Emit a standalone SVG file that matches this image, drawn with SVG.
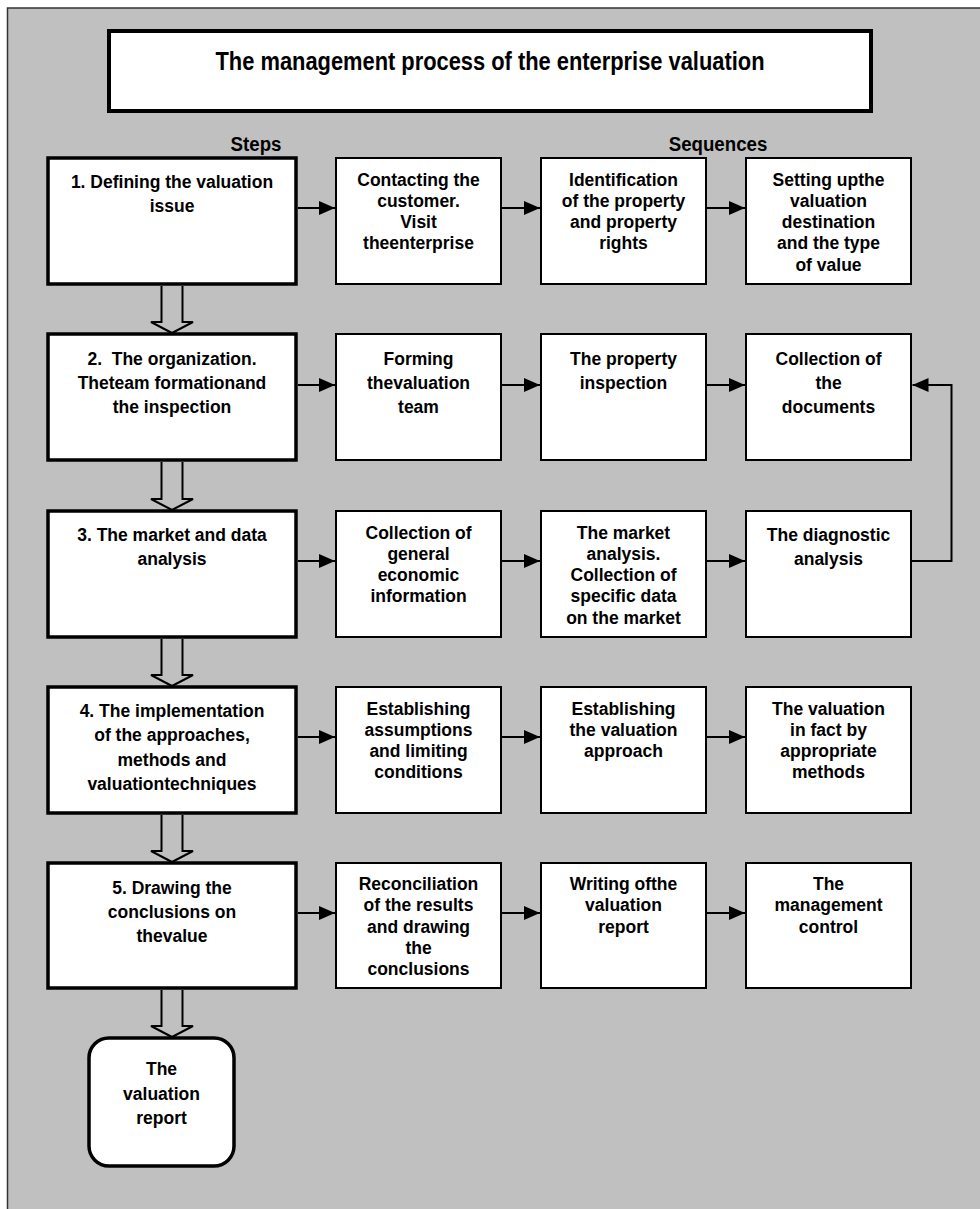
<svg xmlns="http://www.w3.org/2000/svg" width="980" height="1209" viewBox="0 0 980 1209">
<defs>
<style>
.bg{fill:#c0c0c0;stroke:#333;stroke-width:1.5}
.title{fill:#fff;stroke:#000;stroke-width:4}
.step{fill:#fff;stroke:#000;stroke-width:3.5}
.seq{fill:#fff;stroke:#000;stroke-width:2}
.conn{fill:none;stroke:#000;stroke-width:2}
.blk{fill:none;stroke:#000;stroke-width:2}
text{font-family:"Liberation Sans",Arial,sans-serif;font-weight:bold;fill:#000;text-anchor:middle}
.t{font-size:25px}
.h{font-size:21px}
.s{font-size:17.5px}
</style>
<marker id="ah" markerUnits="userSpaceOnUse" markerWidth="16" markerHeight="14" refX="16" refY="7" orient="auto">
<path d="M0,0 L16,7 L0,14 z" fill="#000"/>
</marker>
</defs>
<rect class="bg" x="7.5" y="8" width="1000" height="1250"/>

<g id="title">
<rect class="title" x="109" y="31" width="762" height="80"/>
<text class="t" transform="translate(490,70) scale(0.875,1)">The management process of the enterprise valuation</text>
</g>
<g id="header-steps"><text class="h" transform="translate(256,151) scale(0.89,1)">Steps</text></g>
<g id="header-sequences"><text class="h" transform="translate(718,151) scale(0.89,1)">Sequences</text></g>

<g id="step1">
<rect class="step" x="48" y="158" width="248" height="126"/>
<text class="s" x="172" y="188">1. Defining the valuation</text>
<text class="s" x="172" y="212">issue</text>
</g>
<g id="seq1a">
<rect class="seq" x="336" y="158" width="165" height="126"/>
<text class="s" x="418.5" y="185.5">Contacting the</text>
<text class="s" x="418.5" y="206.8">customer.</text>
<text class="s" x="418.5" y="228.1">Visit</text>
<text class="s" x="418.5" y="249.4">theenterprise</text>
</g>
<g id="seq1b">
<rect class="seq" x="541" y="158" width="165" height="126"/>
<text class="s" x="623.5" y="185.5">Identification</text>
<text class="s" x="623.5" y="206.8">of the property</text>
<text class="s" x="623.5" y="228.1">and property</text>
<text class="s" x="623.5" y="249.4">rights</text>
</g>
<g id="seq1c">
<rect class="seq" x="746" y="158" width="165" height="126"/>
<text class="s" x="828.5" y="185.5">Setting upthe</text>
<text class="s" x="828.5" y="206.8">valuation</text>
<text class="s" x="828.5" y="228.1">destination</text>
<text class="s" x="828.5" y="249.4">and the type</text>
<text class="s" x="828.5" y="270.7">of value</text>
</g>

<g id="step2">
<rect class="step" x="48" y="334" width="248" height="126"/>
<text class="s" x="172" y="365" xml:space="preserve">2.  The organization.</text>
<text class="s" x="172" y="389">Theteam formationand</text>
<text class="s" x="172" y="413">the inspection</text>
</g>
<g id="seq2a">
<rect class="seq" x="336" y="334" width="165" height="126"/>
<text class="s" x="418.5" y="365">Forming</text>
<text class="s" x="418.5" y="389">thevaluation</text>
<text class="s" x="418.5" y="413">team</text>
</g>
<g id="seq2b">
<rect class="seq" x="541" y="334" width="165" height="126"/>
<text class="s" x="623.5" y="365">The property</text>
<text class="s" x="623.5" y="389">inspection</text>
</g>
<g id="seq2c">
<rect class="seq" x="746" y="334" width="165" height="126"/>
<text class="s" x="828.5" y="365">Collection of</text>
<text class="s" x="828.5" y="389">the</text>
<text class="s" x="828.5" y="413">documents</text>
</g>

<g id="step3">
<rect class="step" x="48" y="511" width="248" height="126"/>
<text class="s" x="172" y="541">3. The market and data</text>
<text class="s" x="172" y="565">analysis</text>
</g>
<g id="seq3a">
<rect class="seq" x="336" y="511" width="165" height="126"/>
<text class="s" x="418.5" y="538.5">Collection of</text>
<text class="s" x="418.5" y="559.8">general</text>
<text class="s" x="418.5" y="581.1">economic</text>
<text class="s" x="418.5" y="602.4">information</text>
</g>
<g id="seq3b">
<rect class="seq" x="541" y="511" width="165" height="126"/>
<text class="s" x="623.5" y="538.5">The market</text>
<text class="s" x="623.5" y="559.8">analysis.</text>
<text class="s" x="623.5" y="581.1">Collection of</text>
<text class="s" x="623.5" y="602.4">specific data</text>
<text class="s" x="623.5" y="623.7">on the market</text>
</g>
<g id="seq3c">
<rect class="seq" x="746" y="511" width="165" height="126"/>
<text class="s" x="828.5" y="541">The diagnostic</text>
<text class="s" x="828.5" y="565">analysis</text>
</g>

<g id="step4">
<rect class="step" x="48" y="687" width="248" height="126"/>
<text class="s" x="172" y="717">4. The implementation</text>
<text class="s" x="172" y="741.3">of the approaches,</text>
<text class="s" x="172" y="765.6">methods and</text>
<text class="s" x="172" y="789.9">valuationtechniques</text>
</g>
<g id="seq4a">
<rect class="seq" x="336" y="687" width="165" height="126"/>
<text class="s" x="418.5" y="714.5">Establishing</text>
<text class="s" x="418.5" y="735.8">assumptions</text>
<text class="s" x="418.5" y="757.1">and limiting</text>
<text class="s" x="418.5" y="778.4">conditions</text>
</g>
<g id="seq4b">
<rect class="seq" x="541" y="687" width="165" height="126"/>
<text class="s" x="623.5" y="714.5">Establishing</text>
<text class="s" x="623.5" y="735.8">the valuation</text>
<text class="s" x="623.5" y="757.1">approach</text>
</g>
<g id="seq4c">
<rect class="seq" x="746" y="687" width="165" height="126"/>
<text class="s" x="828.5" y="714.5">The valuation</text>
<text class="s" x="828.5" y="735.8">in fact by</text>
<text class="s" x="828.5" y="757.1">appropriate</text>
<text class="s" x="828.5" y="778.4">methods</text>
</g>

<g id="step5">
<rect class="step" x="48" y="863" width="248" height="125"/>
<text class="s" x="172" y="894">5. Drawing the</text>
<text class="s" x="172" y="918">conclusions on</text>
<text class="s" x="172" y="942">thevalue</text>
</g>
<g id="seq5a">
<rect class="seq" x="336" y="863" width="165" height="125"/>
<text class="s" x="418.5" y="890">Reconciliation</text>
<text class="s" x="418.5" y="911.3">of the results</text>
<text class="s" x="418.5" y="932.6">and drawing</text>
<text class="s" x="418.5" y="953.9">the</text>
<text class="s" x="418.5" y="975.2">conclusions</text>
</g>
<g id="seq5b">
<rect class="seq" x="541" y="863" width="165" height="125"/>
<text class="s" x="623.5" y="890">Writing ofthe</text>
<text class="s" x="623.5" y="911.3">valuation</text>
<text class="s" x="623.5" y="932.6">report</text>
</g>
<g id="seq5c">
<rect class="seq" x="746" y="863" width="165" height="125"/>
<text class="s" x="828.5" y="890">The</text>
<text class="s" x="828.5" y="911.3">management</text>
<text class="s" x="828.5" y="932.6">control</text>
</g>

<g id="report">
<rect class="step" x="89" y="1038" width="145" height="128" rx="20" ry="20"/>
<text class="s" x="161.5" y="1075">The</text>
<text class="s" x="161.5" y="1099.5">valuation</text>
<text class="s" x="161.5" y="1124">report</text>
</g>

<g id="connectors">
<line class="conn" x1="298" y1="208" x2="335" y2="208" marker-end="url(#ah)"/>
<line class="conn" x1="502" y1="208" x2="540" y2="208" marker-end="url(#ah)"/>
<line class="conn" x1="707" y1="208" x2="745" y2="208" marker-end="url(#ah)"/>
<line class="conn" x1="298" y1="385" x2="335" y2="385" marker-end="url(#ah)"/>
<line class="conn" x1="502" y1="385" x2="540" y2="385" marker-end="url(#ah)"/>
<line class="conn" x1="707" y1="385" x2="745" y2="385" marker-end="url(#ah)"/>
<line class="conn" x1="298" y1="561" x2="335" y2="561" marker-end="url(#ah)"/>
<line class="conn" x1="502" y1="561" x2="540" y2="561" marker-end="url(#ah)"/>
<line class="conn" x1="707" y1="561" x2="745" y2="561" marker-end="url(#ah)"/>
<line class="conn" x1="298" y1="737" x2="335" y2="737" marker-end="url(#ah)"/>
<line class="conn" x1="502" y1="737" x2="540" y2="737" marker-end="url(#ah)"/>
<line class="conn" x1="707" y1="737" x2="745" y2="737" marker-end="url(#ah)"/>
<line class="conn" x1="298" y1="913" x2="335" y2="913" marker-end="url(#ah)"/>
<line class="conn" x1="502" y1="913" x2="540" y2="913" marker-end="url(#ah)"/>
<line class="conn" x1="707" y1="913" x2="745" y2="913" marker-end="url(#ah)"/>
<polyline class="conn" points="912,561 951.5,561 951.5,385 912.5,385" marker-end="url(#ah)"/>
<polyline class="blk" points="161.5,286 161.5,322 151,322 172,333 193,322 182.5,322 182.5,286"/>
<polyline class="blk" points="161.5,462 161.5,499 151,499 172,510 193,499 182.5,499 182.5,462"/>
<polyline class="blk" points="161.5,639 161.5,675 151,675 172,686 193,675 182.5,675 182.5,639"/>
<polyline class="blk" points="161.5,815 161.5,851 151,851 172,862 193,851 182.5,851 182.5,815"/>
<polyline class="blk" points="161.5,990 161.5,1026 151,1026 172,1037 193,1026 182.5,1026 182.5,990"/>
</g>
</svg>
